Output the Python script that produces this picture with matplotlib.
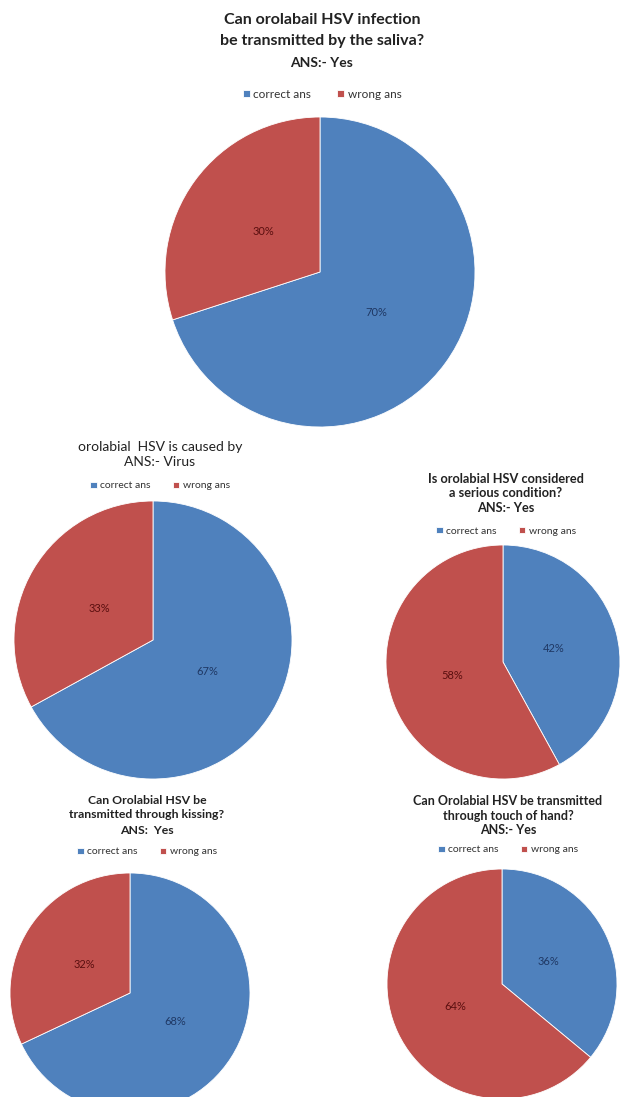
import matplotlib
matplotlib.use("Agg")
import matplotlib.pyplot as plt

W, H = 621, 1097

plt.rcParams['font.family'] = ['Lato', 'DejaVu Sans']

# data
labels = ['correct ans', 'wrong ans']
colors = ['#4F81BD', '#C0504D']
text_colors = ['#1F3864', '#5A0F0F']

titles = [
    ['Can orolabail HSV infection', 'be transmitted by the saliva?', 'ANS:- Yes'],
    ['orolabial  HSV is caused by', 'ANS:- Virus'],
    ['Is orolabial HSV considered', 'a serious condition?', 'ANS:- Yes'],
    ['Can Orolabial HSV be', 'transmitted through kissing?', 'ANS:  Yes'],
    ['Can Orolabial HSV be transmitted', 'through touch of hand?', 'ANS:- Yes'],
]
correct_pct = [70, 67, 42, 68, 36]
wrong_pct = [30, 33, 58, 32, 64]

# layout in pixels: pie centre x, centre y, radius, title centre x, first title y,
# line step, title size, bold, legend y, legend size
layout = [
    (320, 272, 155, 322, 20, 21.5, 11.5, True, 94, 8.5),
    (153, 640, 139, 160, 447, 14.5, 10, False, 486, 7.5),
    (503, 662, 117, 506, 479, 14.5, 9.2, True, 531, 7.5),
    (130, 993, 120, 147, 800, 15, 8.8, True, 852, 7.5),
    (502, 984, 115, 508, 801, 14.5, 9, True, 850, 7.5),
]

fig = plt.figure(figsize=(W / 100, H / 100), dpi=100)
fig.patch.set_facecolor('white')

for i in range(len(titles)):
    cx, cy, r, tx, ty, step, tsize, bold, ly, lsize = layout[i]
    ax = fig.add_axes([(cx - r) / W, 1 - (cy + r) / H, 2 * r / W, 2 * r / H])
    vals = [correct_pct[i], wrong_pct[i]]
    wedges, texts, autotexts = ax.pie(
        vals, colors=colors, startangle=90, counterclock=False,
        autopct='%d%%', pctdistance=0.45,
        wedgeprops=dict(edgecolor='white', linewidth=0.6),
        textprops=dict(fontsize=8))
    for t, c in zip(autotexts, text_colors):
        t.set_color(c)
    ax.set_xlim(-1, 1)
    ax.set_ylim(-1, 1)
    ax.set_aspect('equal')
    ax.axis('off')

    n = len(titles[i])
    for k, line in enumerate(titles[i]):
        size = tsize
        if i == 0 and k == n - 1:
            size = 10
        fig.text(tx / W, 1 - (ty + k * step) / H, line, ha='center', va='center',
                 fontsize=size, fontweight='bold' if bold else 'normal',
                 color='#222222')

    fig.legend(wedges, labels, loc='center', ncol=2, frameon=False,
               bbox_to_anchor=(tx / W, 1 - ly / H), fontsize=lsize,
               handlelength=0.6, handleheight=0.6, handletextpad=0.3,
               columnspacing=2.2, labelcolor='#333333')

fig.savefig('out.png', dpi=100, facecolor='white')
